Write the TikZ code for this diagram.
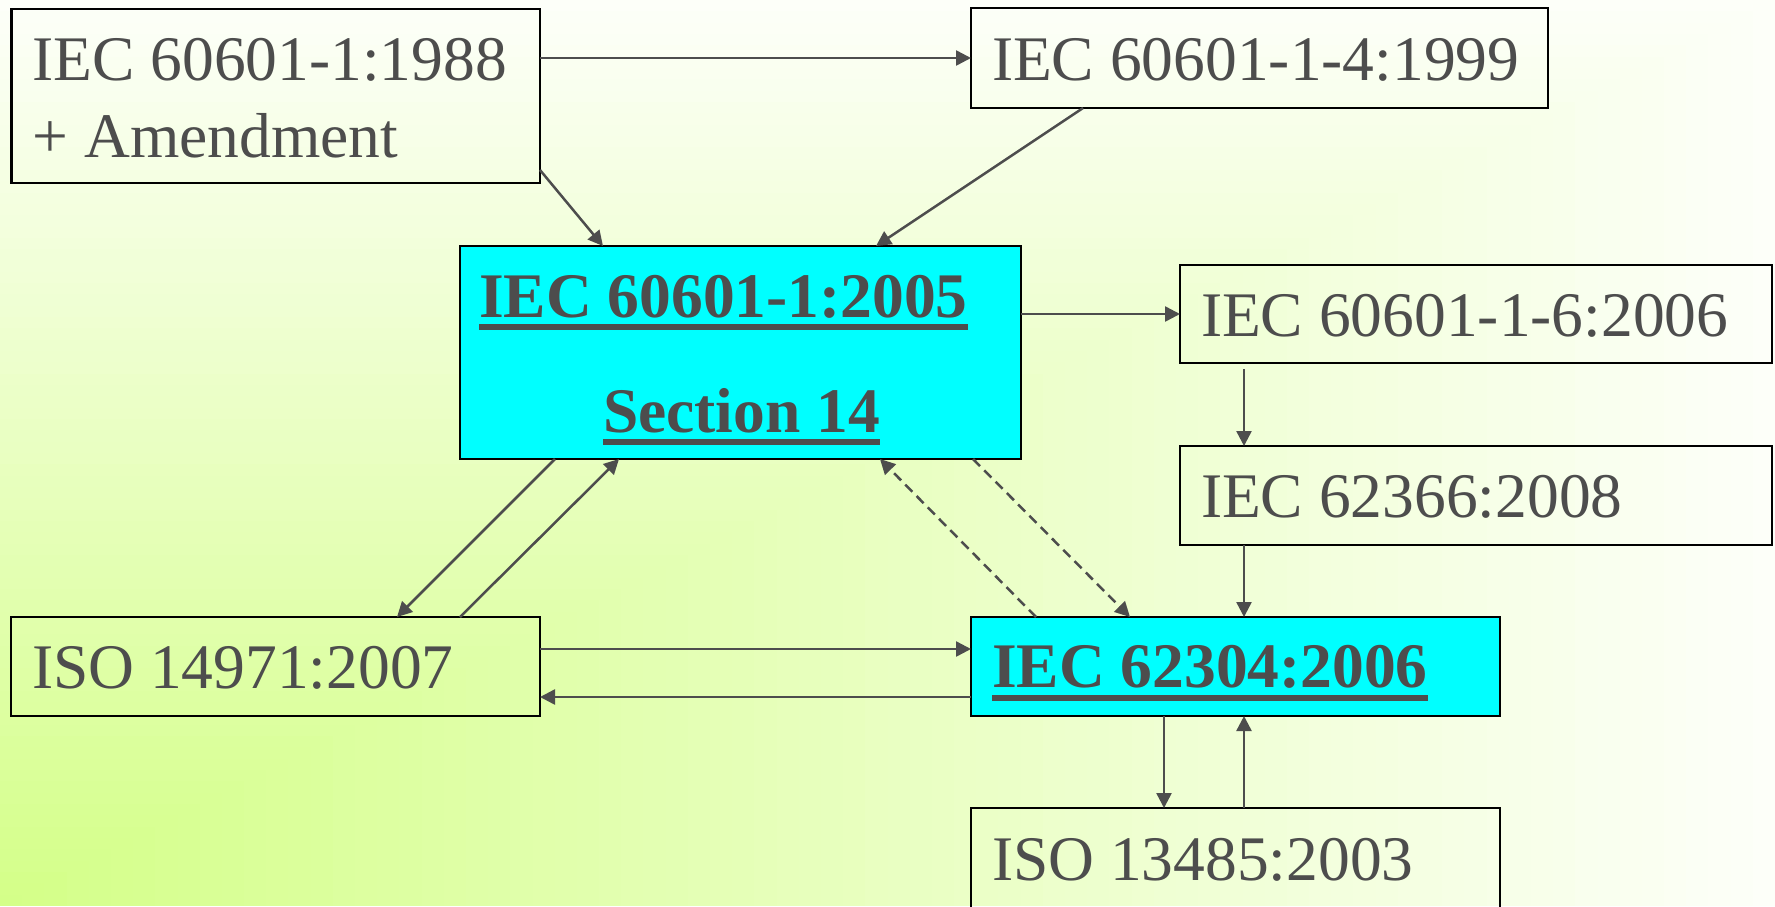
\documentclass[tikz,border=0pt]{standalone}
\usepackage{fontspec}
\setmainfont{Liberation Serif}
\usetikzlibrary{arrows.meta}
\definecolor{txt}{HTML}{4D4D4D}
\definecolor{bgIn}{HTML}{D4FF88}
\definecolor{bgOut}{HTML}{FDFFF9}
\definecolor{hicyan}{HTML}{00FFFF}
\begin{document}
\begin{tikzpicture}[x=1pt,y=-1pt,
  box/.style={draw=black, line width=2.7pt, rectangle, inner sep=0pt, outer sep=0pt, anchor=north west},
  hlbox/.style={box, fill=hicyan},
  lbl/.style={anchor=base west, inner sep=0pt, outer sep=0pt, text=txt, font=\fontsize{63.5}{76}\selectfont},
  blbl/.style={lbl, font=\fontsize{63.5}{76}\selectfont\bfseries},
  conn/.style={draw=txt, line width=2.5pt, -{Triangle[length=15pt,width=15pt]}},
  dashconn/.style={conn, dash pattern=on 10pt off 6pt},
  uline/.style={draw=txt, line width=6.5pt}]
\useasboundingbox (0,0) rectangle (1775,906);
% background: rectangular gradient from the lower left corner
\foreach \i in {80,79,...,1}{
  \pgfmathtruncatemacro\p{100/80*\i}
  \pgfmathsetmacro\bw{22.1875*\i}
  \pgfmathsetmacro\bh{906-11.325*\i}
  \fill[bgOut!\p!bgIn] (0,906) rectangle (\bw,\bh);
}

% boxes
\node[box, minimum width=528.5pt, minimum height=174pt] (A) at (11.5,9) {};
\node[box, minimum width=577pt, minimum height=100pt] (B) at (971,8) {};
\node[hlbox, minimum width=561pt, minimum height=213pt] (C) at (460,246) {};
\node[box, minimum width=592pt, minimum height=98pt] (D) at (1180,265) {};
\node[box, minimum width=592pt, minimum height=99pt] (E) at (1180,446) {};
\node[hlbox, minimum width=529pt, minimum height=99pt] (F) at (971,617) {};
\node[box, minimum width=529pt, minimum height=99pt] (G) at (11,617) {};
\node[box, minimum width=529pt, minimum height=140pt] (H) at (971,808) {};

% labels
\node[lbl] (tA1) at (32.5,80) {IEC 60601-1:1988};
\node[lbl] (tA2) at (32.5,157) {+ Amendment};
\node[lbl] (tB) at (992,80) {IEC 60601-1-4:1999};
\node[blbl] (tC1) at (479,317) {IEC 60601-1:2005};
\node[blbl] (tC2) at (603,432) {Section 14};
\node[lbl] (tD) at (1201,336) {IEC 60601-1-6:2006};
\node[lbl] (tE) at (1201,517) {IEC 62366:2008};
\node[blbl] (tF) at (992,687) {IEC 62304:2006};
\node[lbl] (tG) at (32,688) {ISO 14971:2007};
\node[lbl] (tH) at (992,880) {ISO 13485:2003};

% underlines
\draw[uline] ([yshift=-10pt]tC1.base west) -- ([yshift=-10pt]tC1.base east);
\draw[uline] ([yshift=-10pt]tC2.base west) -- ([yshift=-10pt]tC2.base east);
\draw[uline] ([yshift=-11pt]tF.base west) -- ([yshift=-11pt]tF.base east);

% connectors
\draw[conn] (A.east |- B.west) -- (B.west);
\draw[conn] ([yshift=13pt]A.south east) -- ([xshift=143pt]C.north west);
\draw[conn] ([xshift=112pt]B.south west) -- ([xshift=416pt]C.north west);
\draw[conn] (C.east |- D.west) -- (D.west);
\draw[conn] ([xshift=64pt,yshift=-6pt]D.south west) -- ([xshift=64pt]E.north west);
\draw[conn] ([xshift=64pt]E.south west) -- ([xshift=273pt]F.north west);
\draw[conn] ([xshift=95pt]C.south west) -- ([xshift=386pt]G.north west);
\draw[conn] ([xshift=449pt]G.north west) -- ([xshift=159pt]C.south west);
\draw[dashconn] ([xshift=65pt]F.north west) -- ([xshift=420pt]C.south west);
\draw[dashconn] ([xshift=513pt]C.south west) -- ([xshift=159pt]F.north west);
\draw[conn] ([yshift=-32pt]G.north east) -- ([yshift=-32pt]F.north west);
\draw[conn] ([yshift=-80pt]F.north west) -- ([yshift=-80pt]G.north east);
\draw[conn] ([xshift=193pt]F.south west) -- ([xshift=193pt]H.north west);
\draw[conn] ([xshift=273pt]H.north west) -- ([xshift=273pt]F.south west);
\end{tikzpicture}
\end{document}
